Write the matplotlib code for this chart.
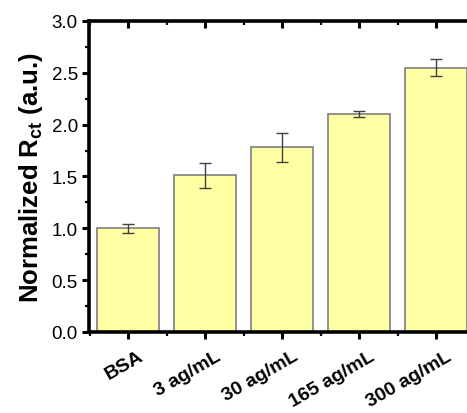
import matplotlib
matplotlib.use("Agg")
import matplotlib.pyplot as plt
from matplotlib.ticker import MultipleLocator, FixedLocator
from matplotlib.transforms import ScaledTranslation

plt.rcParams['font.family'] = ['Liberation Sans', 'DejaVu Sans']
plt.rcParams['mathtext.fontset'] = 'custom'
plt.rcParams['mathtext.rm'] = 'Liberation Sans'
plt.rcParams['mathtext.bf'] = 'Liberation Sans:bold'

categories = ["BSA", "3 ag/mL", "30 ag/mL", "165 ag/mL", "300 ag/mL"]
values = [1.00, 1.51, 1.78, 2.10, 2.55]
errors = [0.045, 0.12, 0.14, 0.03, 0.085]

fig = plt.figure(figsize=(4.67, 4.14), dpi=100)
ax = fig.add_axes([0.1906, 0.1957, 0.8255, 0.7512])

x = list(range(len(categories)))
ax.bar(x, values, width=0.8, color='#FFFFA3', edgecolor='#7f7f7f', linewidth=1.2, zorder=2)
ax.errorbar(x, values, yerr=errors, fmt='none', ecolor='#404040', elinewidth=1.0,
            capsize=4, capthick=1.0, zorder=3)

ax.set_xlim(-0.51, 4.5)
ax.set_ylim(0, 3.0)
ax.yaxis.set_major_locator(MultipleLocator(0.5))
ax.yaxis.set_minor_locator(MultipleLocator(0.25))
ax.set_xticks(x)
ax.xaxis.set_minor_locator(FixedLocator([i + 0.5 for i in range(-1, 5)]))

for s in ['left', 'bottom', 'top']:
    ax.spines[s].set_linewidth(2.6)
ax.spines['right'].set_visible(False)

ax.tick_params(axis='y', which='major', direction='out', length=5, width=2.2,
               labelsize=13.5, pad=3)
ax.tick_params(axis='y', which='minor', direction='out', length=3, width=1.6)
ax.tick_params(axis='x', which='major', direction='out', length=5, width=2.2,
               top=True, labelsize=14, pad=6)
ax.tick_params(axis='x', which='minor', direction='out', length=3, width=1.6, top=True)
for t in ax.xaxis.get_major_ticks():
    t.tick2line.set_marker(3)
for t in ax.xaxis.get_minor_ticks():
    t.tick2line.set_marker(3)

ax.set_xticklabels(categories, rotation=30, ha='right', rotation_mode='anchor',
                   fontweight='bold')
offset = ScaledTranslation(10 / 100, 0, fig.dpi_scale_trans)
for lbl in ax.get_xticklabels():
    lbl.set_fontweight('bold')
    lbl.set_transform(lbl.get_transform() + offset)

ax.set_ylabel(r'Normalized R$_{\mathbf{ct}}$ (a.u.)', fontsize=18.5, fontweight='bold',
              labelpad=5)

fig.savefig('out.png', dpi=100)
